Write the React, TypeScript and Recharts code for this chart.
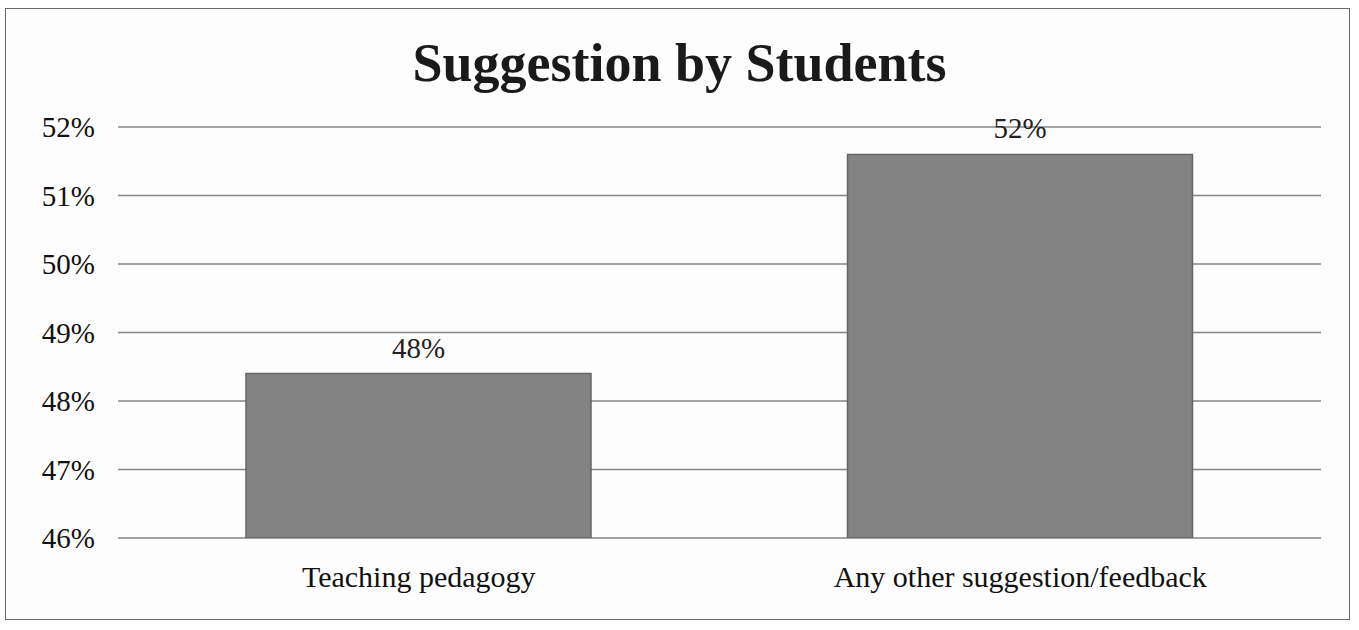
import React from 'react';
import { BarChart, Bar, XAxis, YAxis, CartesianGrid, LabelList } from 'recharts';

const categories = ['Teaching pedagogy', 'Any other suggestion/feedback'];
const values = [48.4, 51.6];
const yTicks = [46, 47, 48, 49, 50, 51, 52];

const data = categories.map((c, i) => ({ name: c, value: values[i] }));

const FONT = '"Liberation Serif", "DejaVu Serif", serif';

export default function App() {
  return (
    <div
      style={{
        position: 'absolute',
        left: 5,
        top: 8,
        width: 1345,
        height: 612,
        border: '1.5px solid #6a6a6a',
        background: '#fdfdfd',
        boxSizing: 'border-box',
      }}
    >
      <div
        style={{
          position: 'absolute',
          top: 27,
          left: 1,
          width: 1345,
          textAlign: 'center',
          fontFamily: FONT,
          fontWeight: 'bold',
          fontSize: 54,
          lineHeight: 1,
          color: '#1a1a1a',
        }}
      >
        Suggestion by Students
      </div>
      <div style={{ position: 'absolute', left: -1, top: -1 }}>
        <BarChart
          width={1345}
          height={612}
          data={data}
          margin={{ top: 119, right: 29, bottom: 32, left: 0 }}
        >
          <CartesianGrid vertical={false} stroke="#858585" strokeWidth={1.5} />
          <XAxis
            dataKey="name"
            axisLine={false}
            tickLine={false}
            tickSize={0}
            tickMargin={28}
            height={50}
            tick={{ fill: '#111', fontFamily: FONT, fontSize: 30 }}
            interval={0}
          />
          <YAxis
            domain={[46, 52]}
            ticks={yTicks}
            allowDataOverflow
            width={113}
            axisLine={false}
            tickLine={false}
            tickSize={0}
            tickMargin={23}
            tickFormatter={(v: number) => `${v}%`}
            tick={{ fill: '#111', fontFamily: FONT, fontSize: 29 }}
          />
          <Bar
            dataKey="value"
            fill="#838383"
            stroke="#666666"
            strokeWidth={1.5}
            barSize={345}
            isAnimationActive={false}
          >
            <LabelList
              dataKey="value"
              position="top"
              offset={16}
              formatter={(v: number) => `${Math.round(v)}%`}
              style={{ fill: '#222', fontFamily: FONT, fontSize: 29 }}
            />
          </Bar>
        </BarChart>
      </div>
    </div>
  );
}
